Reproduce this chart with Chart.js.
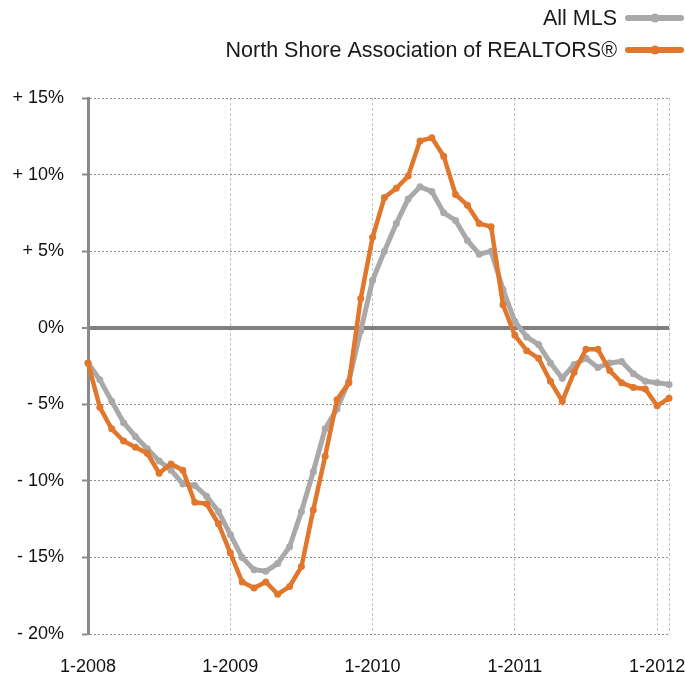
<!DOCTYPE html>
<html>
<head>
<meta charset="utf-8">
<script src="https://cdn.jsdelivr.net/npm/chart.js@4"></script>
<style>
  html, body { margin: 0; padding: 0; background: #fff; }
  canvas { display: block; }
</style>
</head>
<body>
<canvas id="chart" width="685" height="677"></canvas>
<script>
// === Data ===
const years = [2008, 2009, 2010, 2011, 2012];
const lastYearMonths = 2; // data runs to Feb 2012

const seriesNames = ["All MLS", "North Shore Association of REALTORS®"];

const allMls = [
  -2.3, -3.4, -4.8, -6.2, -7.1, -7.9, -8.7, -9.3, -10.2, -10.3, -11.0, -12.0,
  -13.5, -15.0, -15.8, -15.9, -15.4, -14.3, -12.0, -9.4, -6.6, -5.3, -3.5, -0.2,
  3.1, 5.0, 6.8, 8.4, 9.2, 8.9, 7.5, 7.0, 5.7, 4.8, 5.0, 2.5,
  0.4, -0.6, -1.1, -2.3, -3.3, -2.4, -2.0, -2.6, -2.3, -2.2, -3.0, -3.5,
  -3.6, -3.7
];

const northShore = [
  -2.3, -5.2, -6.6, -7.4, -7.8, -8.2, -9.5, -8.9, -9.3, -11.4, -11.5, -12.8,
  -14.7, -16.6, -17.0, -16.6, -17.4, -16.9, -15.6, -11.9, -8.4, -4.7, -3.6, 1.9,
  5.9, 8.5, 9.1, 9.9, 12.2, 12.4, 11.2, 8.7, 8.0, 6.8, 6.6, 1.5,
  -0.5, -1.5, -2.0, -3.5, -4.8, -2.9, -1.4, -1.4, -2.8, -3.6, -3.9, -4.0,
  -5.1, -4.6
];

const yTickValues = [15, 10, 5, 0, -5, -10, -15, -20];
const yTickLabels = ["+ 15%", "+ 10%", "+ 5%", "0%", "- 5%", "- 10%", "- 15%", "- 20%"];

// month labels "m-yyyy"
const months = [];
years.forEach(y => {
  const n = y === 2012 ? lastYearMonths : 12;
  for (let m = 1; m <= n; m++) months.push(m + "-" + y);
});

const colors = { grey: "#a9a9a9", orange: "#e0772d", axis: "#8a8a8a" };
const FONT = "'Liberation Sans', Arial, Helvetica, sans-serif";

// === Legend (label first, line sample after, right aligned) ===
const sideLegend = {
  id: "sideLegend",
  afterDraw(chart) {
    const ctx = chart.ctx;
    const rows = [
      { ds: chart.data.datasets[1], y: 18 },
      { ds: chart.data.datasets[0], y: 50 }
    ];
    ctx.save();
    ctx.font = "21.5px " + FONT;
    ctx.textAlign = "right";
    ctx.textBaseline = "middle";
    rows.forEach(r => {
      ctx.fillStyle = "#1a1a1a";
      ctx.fillText(r.ds.label, 617, r.y + 1);
      ctx.strokeStyle = r.ds.borderColor;
      ctx.lineWidth = 6;
      ctx.lineCap = "round";
      ctx.beginPath();
      ctx.moveTo(628, r.y);
      ctx.lineTo(681, r.y);
      ctx.stroke();
      ctx.fillStyle = r.ds.borderColor;
      ctx.beginPath();
      ctx.arc(655, r.y, 4.5, 0, Math.PI * 2);
      ctx.fill();
    });
    ctx.restore();
  }
};

// === Chart ===
const ctx = document.getElementById("chart").getContext("2d");
new Chart(ctx, {
  type: "line",
  data: {
    labels: months,
    datasets: [
      {
        label: seriesNames[1],
        data: northShore,
        borderColor: colors.orange,
        backgroundColor: colors.orange,
        borderWidth: 4.5,
        pointRadius: 3.5,
        pointBorderWidth: 0,
        pointBackgroundColor: colors.orange,
        tension: 0,
        order: 0
      },
      {
        label: seriesNames[0],
        data: allMls,
        borderColor: colors.grey,
        backgroundColor: colors.grey,
        borderWidth: 5,
        pointRadius: 3.5,
        pointBorderWidth: 0,
        pointBackgroundColor: colors.grey,
        tension: 0,
        order: 1
      }
    ]
  },
  options: {
    responsive: false,
    animation: false,
    layout: { padding: { top: 98, right: 16, left: 0, bottom: 0 } },
    plugins: {
      legend: { display: false },
      title: { display: false },
      tooltip: { enabled: false }
    },
    scales: {
      x: {
        type: "category",
        offset: false,
        afterFit: s => { s.height = 43; },
        grid: {
          drawTicks: true,
          tickLength: 14,
          tickColor: "rgba(0,0,0,0)",
          lineWidth: 1,
          color: c => {
            const i = c.index;
            if (i === 0) return "rgba(0,0,0,0)";
            return (i % 12 === 0 || i === months.length - 1) ? "#c4c4c4" : "rgba(0,0,0,0)";
          }
        },
        border: { display: false, dash: [3, 2] },
        ticks: {
          autoSkip: false,
          maxRotation: 0,
          padding: 8,
          color: "#111",
          font: { family: FONT, size: 18 },
          callback: function (value, index) {
            return index % 12 === 0 ? months[index] : "";
          }
        }
      },
      y: {
        min: -20,
        max: 15,
        afterFit: s => { s.width = 88; },
        afterBuildTicks: s => { s.ticks = yTickValues.map(v => ({ value: v })); },
        grid: {
          drawTicks: true,
          tickLength: 6,
          tickWidth: 2,
          tickColor: colors.axis,
          color: c => (c.tick && c.tick.value === 0) ? "#808080" : "#8e8e8e",
          lineWidth: c => (c.tick && c.tick.value === 0) ? 4 : 1
        },
        border: {
          display: true,
          color: colors.axis,
          width: 3,
          dash: c => (c.tick && c.tick.value === 0) ? [] : [2, 2]
        },
        ticks: {
          padding: 18,
          color: "#111",
          font: { family: FONT, size: 18 },
          callback: v => yTickLabels[yTickValues.indexOf(v)]
        }
      }
    }
  },
  plugins: [sideLegend]
});
</script>
</body>
</html>
